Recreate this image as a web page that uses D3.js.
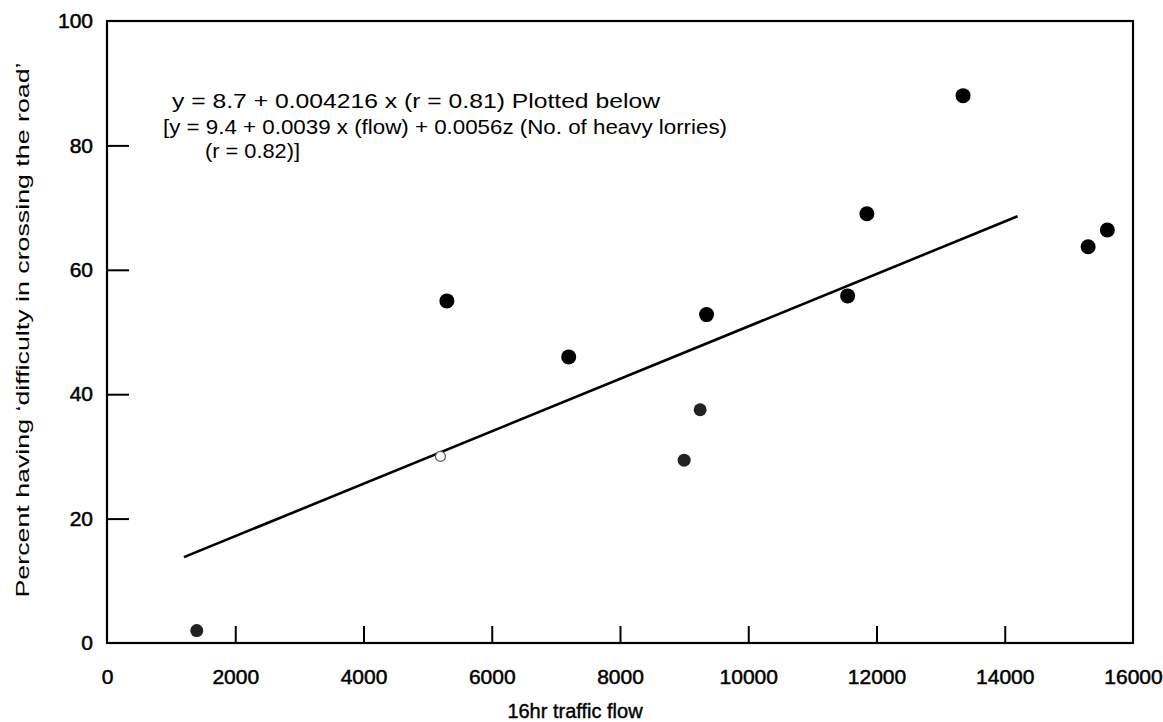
<!DOCTYPE html>
<html>
<head>
<meta charset="utf-8">
<script src="https://cdn.jsdelivr.net/npm/d3@7"></script>
<style>
  body { margin: 0; background: #fff; }
  text { font-family: "Liberation Sans", Arial, sans-serif; fill: #000; }
</style>
</head>
<body>
<div id="chart"></div>
<script>
// survey points: 16hr flow vs percent having difficulty
const flows    = [1400, 5300, 7200, 9000, 9250, 9350, 11550, 11850, 13350, 15300, 15600];
const percents = [2,    55,   46,   29.4, 37.5, 52.8, 55.8,  69,    88,    63.7,  66.4];
const faint    = [true, false, false, true, true, false, false, false, false, false, false];

// the hollow point sitting on the fitted line
const openFlow = [5200];
const openPct  = [30];

// fitted line end points (y = 8.7 + 0.004216x)
const fitFlow = [1200, 14200];
const fitPct  = [13.8, 68.6];

const xTicks = [0, 2000, 4000, 6000, 8000, 10000, 12000, 14000, 16000];
const yTicks = [0, 20, 40, 60, 80, 100];

const notes = [
  "y = 8.7 + 0.004216 x (r = 0.81) Plotted below",
  "[y = 9.4 + 0.0039 x (flow) + 0.0056z (No. of heavy lorries)",
  "(r = 0.82)]"
];

const W = 1163, H = 722;
const margin = {top: 21, right: 30, bottom: 79, left: 107};
const width = W - margin.left - margin.right;
const height = H - margin.top - margin.bottom;

const svg = d3.select("#chart").append("svg")
    .attr("width", W)
    .attr("height", H);

const g = svg.append("g")
    .attr("transform", `translate(${margin.left},${margin.top})`);

const x = d3.scaleLinear().domain([0, 16000]).range([0, width]);
const y = d3.scaleLinear().domain([0, 100]).range([height, 0]);

// frame
g.append("rect")
    .attr("width", width)
    .attr("height", height)
    .attr("fill", "none")
    .attr("stroke", "#000")
    .attr("stroke-width", 2.2);

// x axis: ticks point inward
const xAxis = g.append("g")
    .attr("transform", `translate(0,${height})`)
    .call(d3.axisBottom(x).tickValues(xTicks).tickFormat(d3.format("d"))
      .tickSizeInner(-17).tickSizeOuter(0).tickPadding(26));
xAxis.select(".domain").remove();
xAxis.selectAll("line").attr("stroke-width", 2).filter(d => d === 0 || d === 16000).remove();
xAxis.selectAll("text")
    .attr("font-size", 21)
    .attr("stroke", "#000")
    .attr("stroke-width", 0.5)
    .attr("font-family", "Liberation Sans, Arial, sans-serif");

const yAxis = g.append("g")
    .call(d3.axisLeft(y).tickValues(yTicks).tickFormat(d3.format("d"))
      .tickSizeInner(-22).tickSizeOuter(0).tickPadding(14));
yAxis.select(".domain").remove();
yAxis.selectAll("line").attr("stroke-width", 2).filter(d => d === 0 || d === 100).remove();
yAxis.selectAll("text")
    .attr("font-size", 21)
    .attr("stroke", "#000")
    .attr("stroke-width", 0.5)
    .attr("font-family", "Liberation Sans, Arial, sans-serif");

// fitted line
g.append("line")
    .attr("x1", x(fitFlow[0])).attr("y1", y(fitPct[0]))
    .attr("x2", x(fitFlow[1])).attr("y2", y(fitPct[1]))
    .attr("stroke", "#000")
    .attr("stroke-width", 2.6);

// points
g.selectAll("circle.pt")
    .data(flows.map((f, i) => ({f, p: percents[i], faint: faint[i]})))
    .join("circle")
    .attr("class", "pt")
    .attr("cx", d => x(d.f))
    .attr("cy", d => y(d.p))
    .attr("r", d => d.faint ? 6.5 : 7.5)
    .attr("fill", d => d.faint ? "#222" : "#000");

g.selectAll("circle.open")
    .data(openFlow.map((f, i) => ({f, p: openPct[i]})))
    .join("circle")
    .attr("class", "open")
    .attr("cx", d => x(d.f))
    .attr("cy", d => y(d.p))
    .attr("r", 5)
    .attr("fill", "#fff")
    .attr("stroke", "#555")
    .attr("stroke-width", 1.2);

// equation notes
const noteX = [172, 163, 205];
const noteY = [108, 134, 158];
const noteLen = [488, 564, 95];
svg.selectAll("text.note")
    .data(notes)
    .join("text")
    .attr("class", "note")
    .attr("x", (d, i) => noteX[i])
    .attr("y", (d, i) => noteY[i])
    .attr("font-size", 21)
    .attr("textLength", (d, i) => noteLen[i])
    .attr("lengthAdjust", "spacingAndGlyphs")
    .text(d => d);

// axis titles
svg.append("text")
    .attr("x", 575)
    .attr("y", 718)
    .attr("text-anchor", "middle")
    .attr("font-size", 20)
    .attr("stroke", "#000")
    .attr("stroke-width", 0.4)
    .text("16hr traffic flow");

svg.append("text")
    .attr("transform", `translate(29,330) rotate(-90)`)
    .attr("text-anchor", "middle")
    .attr("font-size", 19)
    .attr("textLength", 535)
    .attr("lengthAdjust", "spacingAndGlyphs")
    .text("Percent having \u2018difficulty in crossing the road\u2019");
</script>
</body>
</html>
